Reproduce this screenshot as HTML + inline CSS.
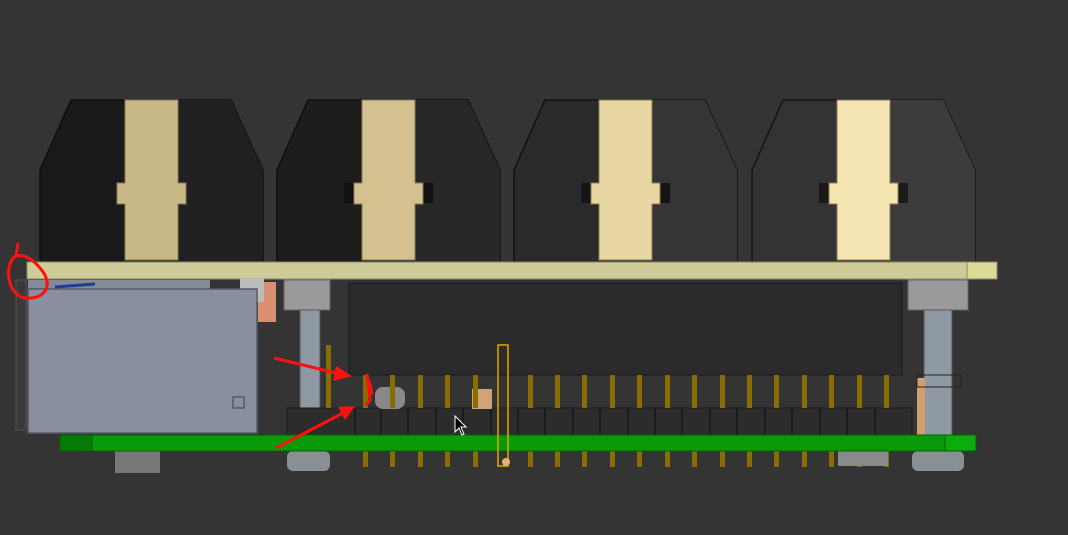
<!DOCTYPE html>
<html><head><meta charset="utf-8"><style>
html,body{margin:0;padding:0;background:#343434;}
svg{display:block}
</style></head><body>
<svg width="1068" height="535" viewBox="0 0 1068 535" xmlns="http://www.w3.org/2000/svg">
<rect width="1068" height="535" fill="#343434"/>
<defs>
<g id="knob">
  <path d="M0,162 L0,70 L31,0 L191,0 L223,70 L223,162 Z" fill="#1e1e1e" stroke="#111" stroke-width="1.5"/>
  <rect x="0" y="0" width="0" height="0"/>
</g>
</defs>
<!-- knobs -->
<g transform="translate(40,100)">
  <path d="M0,162 L0,70 L31,0 L191,0 L223,70 L223,162 Z" fill="#191919" stroke="#0e0e0e" stroke-width="1.5"/>
  <path d="M138,0 L191,0 L223,70 L223,162 L138,162 Z" fill="#202020"/>
  <rect x="77" y="83" width="10" height="20" fill="#111"/><rect x="136" y="83" width="10" height="20" fill="#111"/>
  <path d="M85,0 H138 V83 H146 V104 H138 V160 H85 V104 H77 V83 H85 Z" fill="#c8b888" stroke="#8a7c55"/>
</g>
<g transform="translate(277,100)">
  <path d="M0,162 L0,70 L31,0 L191,0 L223,70 L223,162 Z" fill="#1d1d1d" stroke="#0e0e0e" stroke-width="1.5"/>
  <path d="M138,0 L191,0 L223,70 L223,162 L138,162 Z" fill="#272727"/>
  <rect x="67" y="83" width="10" height="20" fill="#111"/><rect x="146" y="83" width="10" height="20" fill="#111"/>
  <path d="M85,0 H138 V83 H146 V104 H138 V160 H85 V104 H77 V83 H85 Z" fill="#d3c190" stroke="#8a7c55"/>
</g>
<g transform="translate(514,100)">
  <path d="M0,162 L0,70 L31,0 L191,0 L223,70 L223,162 Z" fill="#2a2a2a" stroke="#111" stroke-width="1.5"/>
  <path d="M138,0 L191,0 L223,70 L223,162 L138,162 Z" fill="#353535"/>
  <rect x="67" y="83" width="10" height="20" fill="#151515"/><rect x="146" y="83" width="10" height="20" fill="#151515"/>
  <path d="M85,0 H138 V83 H146 V104 H138 V160 H85 V104 H77 V83 H85 Z" fill="#e8d7a3" stroke="#8a7c55"/>
</g>
<g transform="translate(752,100)">
  <path d="M0,162 L0,70 L31,0 L191,0 L223,70 L223,162 Z" fill="#333" stroke="#151515" stroke-width="1.5"/>
  <path d="M138,0 L191,0 L223,70 L223,162 L138,162 Z" fill="#3c3c3c"/>
  <rect x="67" y="83" width="10" height="20" fill="#1a1a1a"/><rect x="146" y="83" width="10" height="20" fill="#1a1a1a"/>
  <path d="M85,0 H138 V83 H146 V104 H138 V160 H85 V104 H77 V83 H85 Z" fill="#f5e5b3" stroke="#8a7c55"/>
</g>
<!-- top board -->
<rect x="27" y="262" width="970" height="17" fill="#cfcb98" stroke="#8c8a66"/>
<rect x="967" y="262" width="30" height="17" fill="#dcd898" stroke="#8c8a66"/>
<!-- header block -->
<rect x="349" y="283" width="553" height="92" fill="#2b2b2b" stroke="#1a1a1a"/>
<!-- left side parts -->
<rect x="16" y="280" width="10" height="150" fill="#3a3a3a" stroke="#555"/>
<rect x="258" y="282" width="18" height="40" fill="#d99070"/>
<rect x="240" y="278" width="24" height="24" fill="#bbb"/>
<rect x="28" y="280" width="182" height="12" fill="#858a98"/>
<rect x="28" y="289" width="229" height="144" fill="#8a8f9f" stroke="#555a66" stroke-width="1.5"/>
<rect x="233" y="397" width="11" height="11" fill="none" stroke="#555a66" stroke-width="1.5"/>
<line x1="55" y1="287" x2="95" y2="284" stroke="#1f3aa0" stroke-width="3"/>
<!-- standoffs -->
<rect x="284" y="280" width="46" height="30" fill="#9a9a9a" stroke="#666"/>
<rect x="300" y="310" width="20" height="135" fill="#8f99a4" stroke="#555"/>
<rect x="908" y="280" width="60" height="30" fill="#9a9a9a" stroke="#666"/>
<rect x="924" y="310" width="28" height="135" fill="#8f99a4" stroke="#555"/>
<rect x="917" y="378" width="8" height="57" fill="#d0a070"/>
<rect x="917" y="375" width="44" height="12" fill="none" stroke="#222"/>
<!-- lower socket row -->
<rect x="287" y="408" width="625" height="29" fill="#2c2c2c" stroke="#1b1b1b"/>
<g stroke="#1b1b1b" stroke-width="2">
<line x1="355" y1="408" x2="355" y2="437"/><line x1="381" y1="408" x2="381" y2="437"/><line x1="408" y1="408" x2="408" y2="437"/><line x1="436" y1="408" x2="436" y2="437"/><line x1="463" y1="408" x2="463" y2="437"/><line x1="491" y1="408" x2="491" y2="437"/><line x1="518" y1="408" x2="518" y2="437"/><line x1="545" y1="408" x2="545" y2="437"/><line x1="573" y1="408" x2="573" y2="437"/><line x1="600" y1="408" x2="600" y2="437"/><line x1="628" y1="408" x2="628" y2="437"/><line x1="655" y1="408" x2="655" y2="437"/><line x1="682" y1="408" x2="682" y2="437"/><line x1="710" y1="408" x2="710" y2="437"/><line x1="737" y1="408" x2="737" y2="437"/><line x1="765" y1="408" x2="765" y2="437"/><line x1="792" y1="408" x2="792" y2="437"/><line x1="820" y1="408" x2="820" y2="437"/><line x1="847" y1="408" x2="847" y2="437"/><line x1="875" y1="408" x2="875" y2="437"/>
</g>
<rect x="472" y="389" width="20" height="20" fill="#d0a474"/>
<rect x="375" y="387" width="30" height="22" rx="8" fill="#888"/>
<!-- pins -->
<g fill="#8a6d00">
<rect x="363" y="375" width="5" height="33"/><rect x="390" y="375" width="5" height="33"/><rect x="418" y="375" width="5" height="33"/><rect x="445" y="375" width="5" height="33"/><rect x="473" y="375" width="5" height="33"/><rect x="528" y="375" width="5" height="33"/><rect x="555" y="375" width="5" height="33"/><rect x="582" y="375" width="5" height="33"/><rect x="610" y="375" width="5" height="33"/><rect x="637" y="375" width="5" height="33"/><rect x="665" y="375" width="5" height="33"/><rect x="692" y="375" width="5" height="33"/><rect x="720" y="375" width="5" height="33"/><rect x="747" y="375" width="5" height="33"/><rect x="774" y="375" width="5" height="33"/><rect x="802" y="375" width="5" height="33"/><rect x="829" y="375" width="5" height="33"/><rect x="857" y="375" width="5" height="33"/><rect x="884" y="375" width="5" height="33"/>
<rect x="363" y="451" width="5" height="16"/><rect x="390" y="451" width="5" height="16"/><rect x="418" y="451" width="5" height="16"/><rect x="445" y="451" width="5" height="16"/><rect x="473" y="451" width="5" height="16"/><rect x="528" y="451" width="5" height="16"/><rect x="555" y="451" width="5" height="16"/><rect x="582" y="451" width="5" height="16"/><rect x="610" y="451" width="5" height="16"/><rect x="637" y="451" width="5" height="16"/><rect x="665" y="451" width="5" height="16"/><rect x="692" y="451" width="5" height="16"/><rect x="720" y="451" width="5" height="16"/><rect x="747" y="451" width="5" height="16"/><rect x="774" y="451" width="5" height="16"/><rect x="802" y="451" width="5" height="16"/><rect x="829" y="451" width="5" height="16"/><rect x="857" y="451" width="5" height="16"/><rect x="884" y="451" width="5" height="16"/>
</g>
<rect x="326" y="345" width="5" height="63" fill="#8a6d00"/>
<!-- bottom parts -->
<rect x="115" y="451" width="45" height="22" fill="#777"/>
<rect x="287" y="451" width="43" height="20" rx="6" fill="#8a8f96"/>
<rect x="912" y="451" width="52" height="20" rx="6" fill="#8a8f96"/>
<rect x="838" y="451" width="50" height="15" fill="#8a8a8a"/>
<!-- green pcb -->
<rect x="60" y="435" width="916" height="16" fill="#089a08" stroke="#056005"/>
<rect x="60" y="435" width="32" height="16" fill="#067a06" stroke="#056005"/>
<rect x="945" y="435" width="31" height="16" fill="#0cac0c" stroke="#056005"/>
<!-- yellow outline -->
<rect x="498" y="345" width="10" height="121" fill="none" stroke="#e0a800" stroke-width="1.5"/>
<circle cx="506" cy="462" r="4" fill="#e8b070"/>
<!-- cursor -->
<path d="M455,416 L455,432 L459,428 L462,435 L464,434 L461,427 L466,427 Z" fill="#000" stroke="#fff" stroke-width="1"/>
<!-- red annotations -->
<g stroke="#ff1010" stroke-width="3" fill="none">
<path d="M18,243 L16,256 C4,262 6,295 25,298 C45,300 55,285 40,268 C32,258 22,254 16,256"/>
<line x1="274" y1="358" x2="340" y2="374"/>
<line x1="276" y1="448" x2="345" y2="412"/>
<path d="M367,374 L370,400 L366,405 M369,380 L372,395"/>
</g>
<path d="M352,376 L336,366 L333,381 Z" fill="#ff1010"/>
<path d="M355,406 L338,407 L345,420 Z" fill="#ff1010"/>
</svg>
</body></html>
